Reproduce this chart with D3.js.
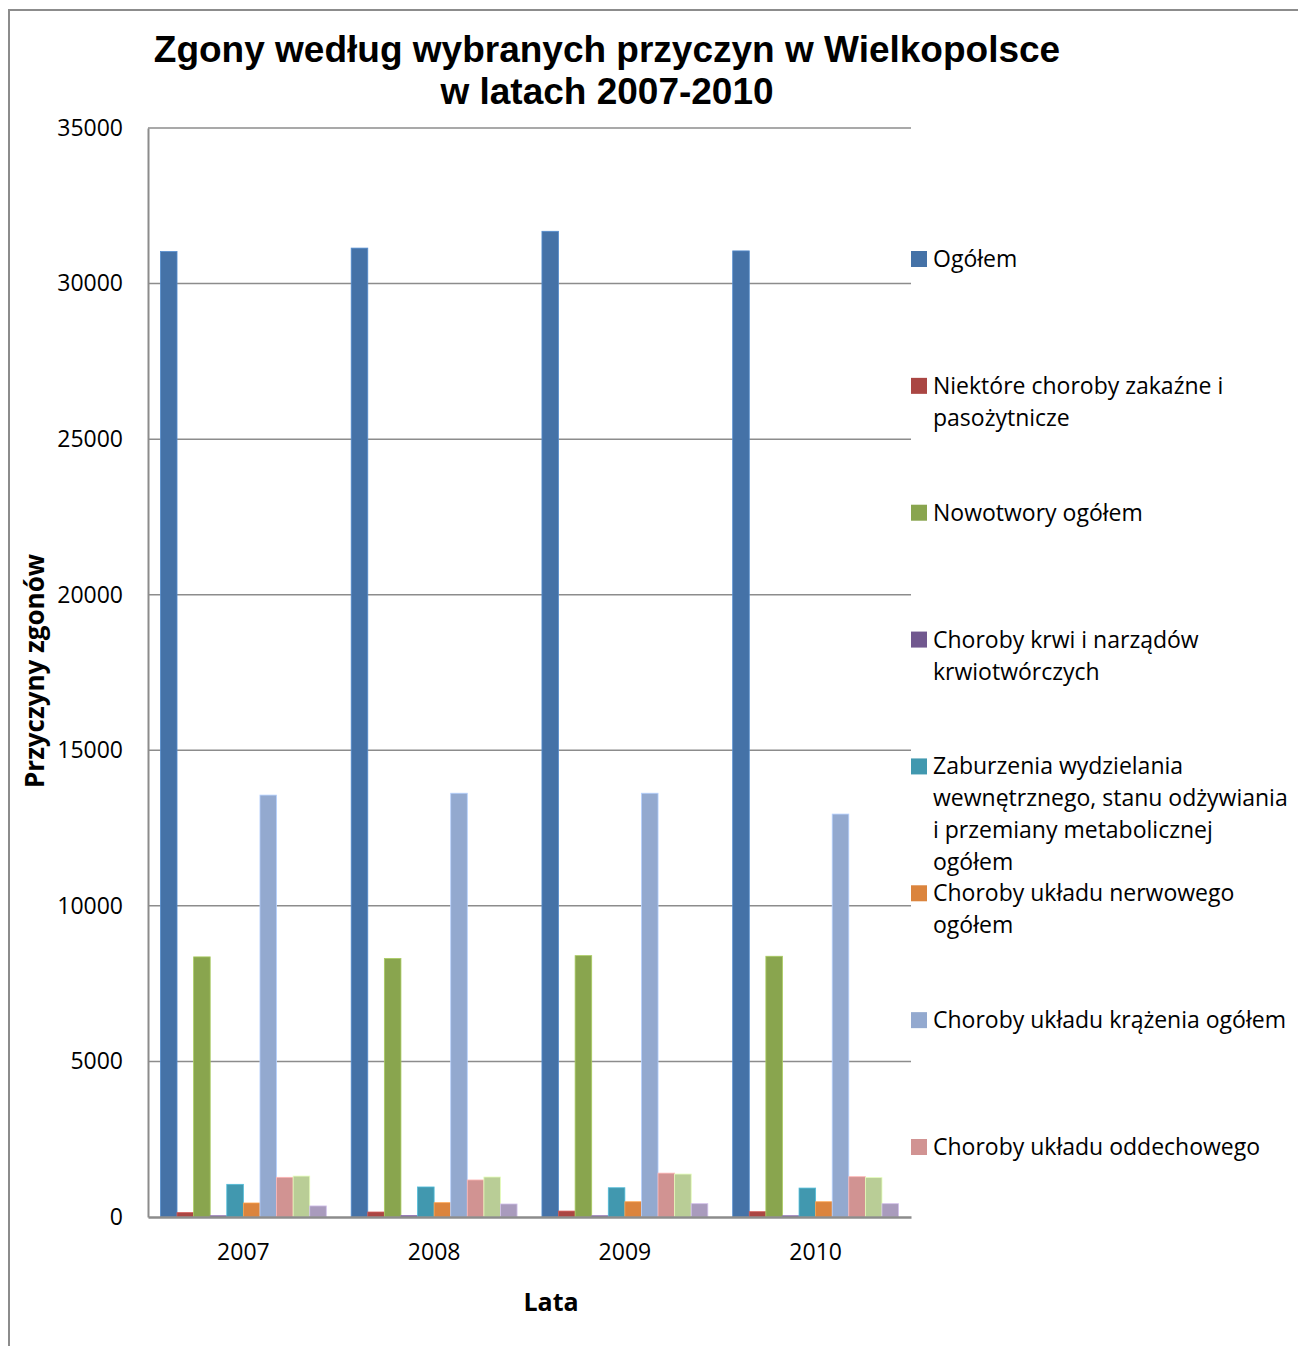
<!DOCTYPE html>
<html>
<head>
<meta charset="utf-8">
<script src="https://cdn.jsdelivr.net/npm/d3@7"></script>
<style>
  html, body { margin: 0; padding: 0; background: #fff; }
  svg { display: block; }
</style>
</head>
<body>
<svg id="chart" width="1298" height="1346"></svg>
<script>
// Years on the category axis
const years = ["2007", "2008", "2009", "2010"];

// Causes of death (legend labels, "\n" marks a wrapped line)
const causes = [
  "Ogółem",
  "Niektóre choroby zakaźne i\npasożytnicze",
  "Nowotwory ogółem",
  "Choroby krwi i narządów\nkrwiotwórczych",
  "Zaburzenia wydzielania\nwewnętrznego, stanu odżywiania\ni przemiany metabolicznej\nogółem",
  "Choroby układu nerwowego\nogółem",
  "Choroby układu krążenia ogółem",
  "Choroby układu oddechowego",
  "Choroby układu trawiennego",
  "Choroby układu moczowo-płciowego"
];

// Deaths per cause, one array per cause, values for 2007..2010
const ogolem      = [31030, 31140, 31680, 31050];
const zakazne     = [140, 160, 190, 170];
const nowotwory   = [8360, 8310, 8400, 8380];
const krew        = [40, 45, 40, 40];
const metaboliczne= [1050, 965, 940, 930];
const nerwowy     = [450, 460, 490, 490];
const krazenie    = [13560, 13620, 13620, 12950];
const oddechowy   = [1275, 1190, 1410, 1295];
const trawienny   = [1315, 1285, 1380, 1265];
const moczowy     = [355, 418, 428, 428];

const seriesValues = [ogolem, zakazne, nowotwory, krew, metaboliczne,
                      nerwowy, krazenie, oddechowy, trawienny, moczowy];

const colors = ["#4572A7", "#AA4643", "#89A54E", "#71588F", "#4198AF",
                "#DB843D", "#93A9CF", "#D19392", "#B9CD96", "#A99BBD"];

// Y axis tick values
const yTicks = [0, 5000, 10000, 15000, 20000, 25000, 30000, 35000];

// Only the first eight entries fit in the legend box
const legendCount = 8;

const svg = d3.select("#chart");
const W = 1298, H = 1346;
const plot = { left: 148, right: 911, top: 128, bottom: 1217 };
const textFont = "'Open Sans', Lato, sans-serif";

// Outer chart frame (top and left edges)
svg.append("path")
  .attr("d", `M9,${H} L9,10 L${W},10`)
  .attr("fill", "none").attr("stroke", "#8c8c8c").attr("stroke-width", 2);

// Scales
const x0 = d3.scaleBand().domain(years).range([plot.left, plot.right]).padding(0);
const x1 = d3.scaleBand().domain(d3.range(causes.length))
  .range([0, x0.bandwidth()]).paddingInner(0).paddingOuter(0.75);
const y = d3.scaleLinear().domain([0, 35000]).range([plot.bottom, plot.top]);

// Gridlines
svg.append("g").selectAll("line").data(yTicks.filter(d => d > 0)).join("line")
  .attr("x1", plot.left).attr("x2", plot.right)
  .attr("y1", d => y(d)).attr("y2", d => y(d))
  .attr("stroke", "#8c8c8c").attr("stroke-width", 1.5);

// Y axis
const yAxis = svg.append("g").attr("transform", `translate(${plot.left},0)`)
  .call(d3.axisLeft(y).tickValues(yTicks).tickSize(0).tickPadding(25).tickFormat(d3.format("d")));
yAxis.select(".domain").attr("stroke", "#8c8c8c").attr("stroke-width", 2);
yAxis.selectAll("text").attr("font-family", textFont).attr("font-size", 23).attr("fill", "#000");

// Bars
const groups = svg.append("g").selectAll("g").data(years).join("g")
  .attr("transform", d => `translate(${x0(d)},0)`);
groups.selectAll("rect")
  .data((yr, i) => seriesValues.map((vals, s) => ({ s, v: vals[i] })))
  .join("rect")
  .attr("x", d => x1(d.s))
  .attr("width", x1.bandwidth())
  .attr("y", d => y(d.v))
  .attr("height", d => y(0) - y(d.v))
  .attr("fill", d => colors[d.s])
  .attr("stroke", d => d3.color(colors[d.s]).brighter(0.6))
  .attr("stroke-width", 0.8);

// X axis
const xAxis = svg.append("g").attr("transform", `translate(0,${plot.bottom})`)
  .call(d3.axisBottom(x0).tickSize(0).tickPadding(27));
xAxis.select(".domain").attr("stroke", "#8c8c8c").attr("stroke-width", 2.5);
xAxis.selectAll("text").attr("font-family", textFont).attr("font-size", 23).attr("fill", "#000");

// Title
const title = svg.append("text")
  .attr("x", 607).attr("text-anchor", "middle")
  .attr("font-family", "'Liberation Sans', Arial, sans-serif")
  .attr("font-weight", "bold").attr("font-size", 37).attr("fill", "#000");
title.append("tspan").attr("x", 607).attr("y", 62).text("Zgony według wybranych przyczyn w Wielkopolsce");
title.append("tspan").attr("x", 607).attr("y", 104).text("w latach 2007-2010");

// Axis titles
svg.append("text")
  .attr("x", 551).attr("y", 1311).attr("text-anchor", "middle")
  .attr("font-family", textFont).attr("font-weight", "bold").attr("font-size", 25)
  .text("Lata");
svg.append("text")
  .attr("transform", "translate(44,671) rotate(-90)").attr("text-anchor", "middle")
  .attr("font-family", textFont).attr("font-weight", "bold").attr("font-size", 26)
  .text("Przyczyny zgonów");

// Legend
const legendY = d3.scaleLinear().domain([0, legendCount - 1]).range([259, 1147]);
const legend = svg.append("g").selectAll("g").data(causes.slice(0, legendCount)).join("g")
  .attr("transform", (d, i) => `translate(911,${legendY(i)})`);
legend.append("rect")
  .attr("x", 0).attr("y", -8).attr("width", 16).attr("height", 16)
  .attr("fill", (d, i) => colors[i]);
legend.append("text")
  .attr("font-family", textFont).attr("font-size", 23).attr("fill", "#000")
  .selectAll("tspan").data(d => d.split("\n")).join("tspan")
  .attr("x", 22).attr("y", (d, j) => 8 + j * 32)
  .text(d => d);
</script>
</body>
</html>
